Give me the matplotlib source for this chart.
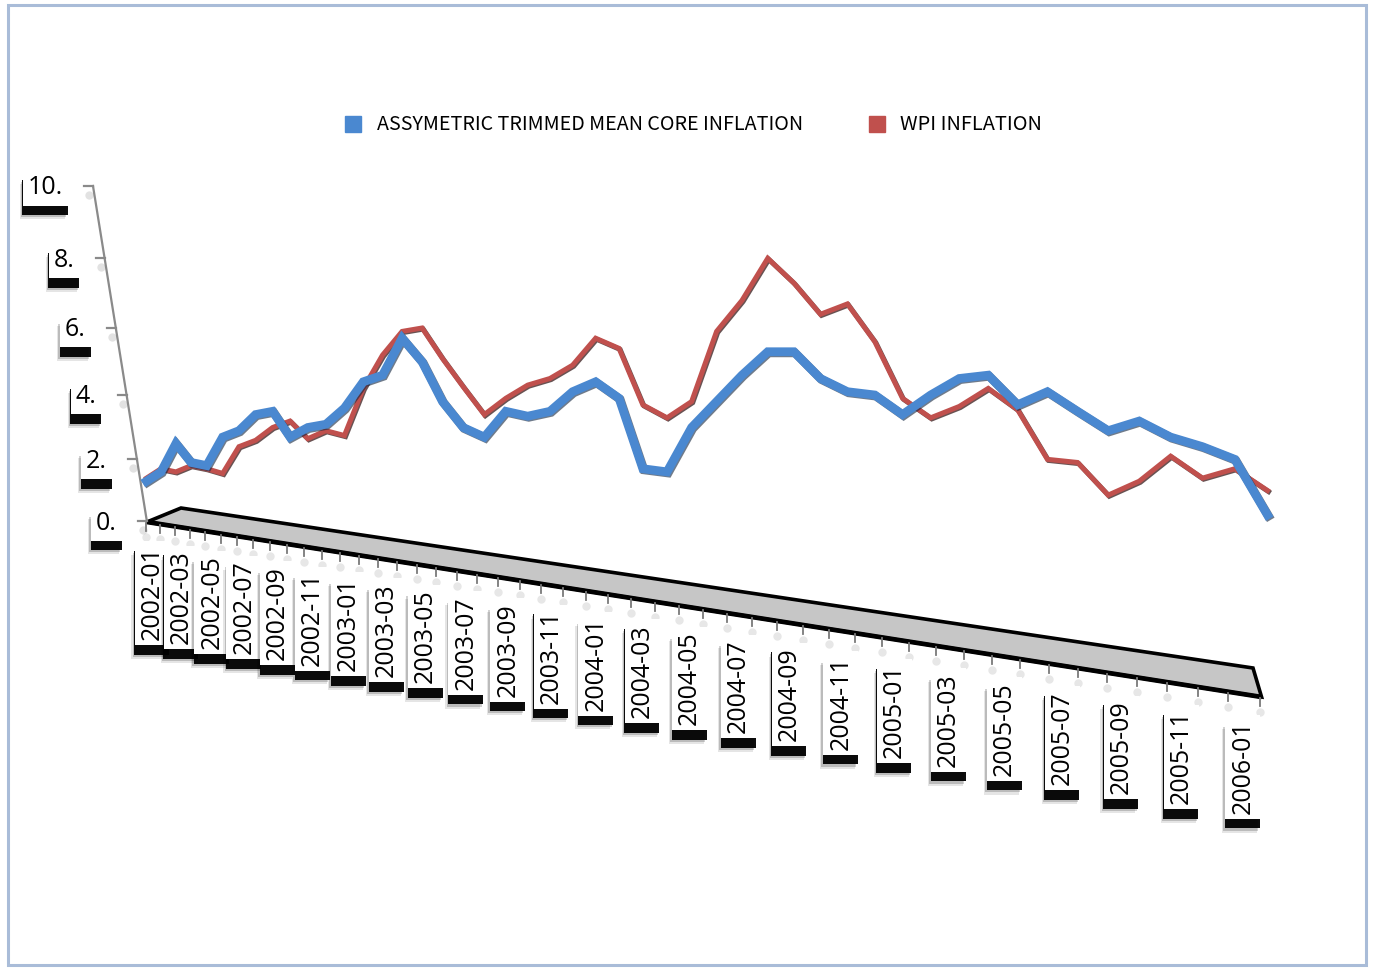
import numpy as np
import matplotlib
matplotlib.use("Agg")
import matplotlib.pyplot as plt
from matplotlib.patches import Polygon, Rectangle
import matplotlib.patheffects as pe

# ---------------- data ----------------
months = [f"{y}-{m:02d}" for y in range(2002, 2007) for m in range(1, 13)][:49]
core_inflation = [1.3, 1.6, 2.5, 1.9, 1.8, 2.7, 2.9, 3.4, 3.5, 2.7,
                  3.0, 3.1, 3.6, 4.4, 4.6, 5.7, 5.0, 3.8, 3.0, 2.7,
                  3.5, 3.35, 3.5, 4.1, 4.4, 3.9, 1.7, 1.6, 3.0, 3.8,
                  4.6, 5.3, 5.3, 4.5, 4.1, 4.0, 3.4, 4.0, 4.5, 4.6,
                  3.7, 4.1, 3.5, 2.9, 3.2, 2.7, 2.4, 2.0, 0.2]
wpi_inflation = [1.4, 1.7, 1.6, 1.8, 1.7, 1.55, 2.4, 2.6, 3.0, 3.2,
                 2.65, 2.9, 2.75, 4.2, 5.2, 5.9, 6.0, 5.1, 4.25, 3.4,
                 3.9, 4.3, 4.5, 4.9, 5.7, 5.4, 3.7, 3.3, 3.8, 5.9,
                 6.8, 8.0, 7.3, 6.4, 6.7, 5.6, 3.9, 3.3, 3.65, 4.2,
                 3.55, 2.0, 1.9, 0.85, 1.3, 2.1, 1.4, 1.7, 1.0]
y_ticks = [0, 2, 4, 6, 8, 10]
y_tick_labels = ["0.", "2.", "4.", "6.", "8.", "10."]
series_names = ["ASSYMETRIC TRIMMED MEAN CORE INFLATION", "WPI INFLATION"]

BLUE = "#4a88d0"
RED = "#c0504d"
W, H = 1374, 969
LABEL_FONT = ["Open Sans", "DejaVu Sans"]
LEGEND_FONT = ["Noto Sans CJK SC", "DejaVu Sans"]

# ---------------- perspective mapping (pixels) ----------------
def x_label_px(t):
    t = np.asarray(t, dtype=float)
    return 152 + 14.27 * t + 0.1762 * t ** 2

def x_line_px(t):
    t = np.asarray(t, dtype=float)
    return x_label_px(t) + 25 * (np.clip(t, 0, None) / 48.0) ** 3

def y_val_px(v):  # pixel row (from top) of value v on the left axis
    v = np.asarray(v, dtype=float)
    return 521 - 30.17 * v - 0.333 * v ** 2

tgrid = np.linspace(-12, 60, 4000)
vgrid = np.linspace(-30, 30, 4000)

def fx(t):
    return x_line_px(t)

def fx_inv(x):
    return np.interp(x, x_line_px(tgrid), tgrid)

def fy(v):
    return H - y_val_px(v)

def fy_inv(p):
    return np.interp(p, H - y_val_px(vgrid), vgrid)

fig = plt.figure(figsize=(W / 100, H / 100), dpi=100)
fig.patch.set_facecolor("white")

# pixel overlay for decorations
px = fig.add_axes([0, 0, 1, 1], zorder=1)
px.set_xlim(0, W)
px.set_ylim(H, 0)
px.axis("off")

# main data axes
ax = fig.add_axes([0, 0, 1, 1], zorder=2)
ax.patch.set_alpha(0)
ax.set_xscale("function", functions=(fx, fx_inv))
ax.set_yscale("function", functions=(fy, fy_inv))
ax.set_xlim(fx_inv(0), fx_inv(W))
ax.set_ylim(fy_inv(0), fy_inv(H))
ax.axis("off")

# outer frame
px.add_patch(Rectangle((8, 5), W - 16, H - 9, fill=False, ec="#a9bcd8", lw=2.2))

box_shadow = [
    pe.SimplePatchShadow(offset=(-2.2, -10), shadow_rgbFace="black", alpha=0.10),
    pe.SimplePatchShadow(offset=(-1.4, -8.5), shadow_rgbFace="black", alpha=0.18),
    pe.SimplePatchShadow(offset=(-0.2, -7), shadow_rgbFace="black", alpha=0.95),
    pe.Normal()]

# ---------------- floor strip ----------------
def front_y(x):
    return 522 + 0.157 * (x - 147)

x_fl = float(x_label_px(-0.5)) + 2
x_fr = float(x_label_px(48.5)) + 3
floor = Polygon([(x_fl, front_y(x_fl)), (181, 508), (1253, 668), (x_fr, front_y(x_fr))],
                closed=True, fc="#c6c6c6", ec="black", lw=2.6, joinstyle="miter", zorder=2)
px.add_patch(floor)
px.plot([x_fl, x_fr], [front_y(x_fl), front_y(x_fr)], color="black", lw=3.4, zorder=3,
        solid_capstyle="butt")

# category tick marks
for k in range(50):
    xb = float(x_label_px(k - 0.5)) + 1
    yb = front_y(xb) + 1
    px.plot([xb, xb], [yb, yb + 8], color="#7a7a7a", lw=1.3, zorder=3)
    px.plot([xb], [yb + 14], marker="o", ms=6, color="#d8d8d8", alpha=0.6, mec="none", zorder=1)

# x labels
for i in range(0, 49, 2):
    xc = float(x_label_px(i))
    ytop = 546 + 0.1595 * (xc - 152)
    txt = px.text(xc, ytop, months[i], rotation=90, ha="center", va="top",
                  fontsize=18, family=LABEL_FONT, color="black", zorder=4,
                  bbox=dict(boxstyle="square,pad=0.2", fc="white", ec="none"))
    txt.get_bbox_patch().set_path_effects(box_shadow)

# ---------------- y axis ----------------
def axis_x(y):
    return 93 + (y - 186) * (54.0 / 336.0)

y_top = float(y_val_px(10))
y_bot = float(y_val_px(0))
px.plot([axis_x(y_top), axis_x(y_bot)], [y_top, y_bot], color="#8a8a8a", lw=1.6, zorder=3)
for v, lab in zip(y_ticks, y_tick_labels):
    yy = float(y_val_px(v))
    xa = axis_x(yy)
    px.plot([xa - 9, xa], [yy, yy], color="#8a8a8a", lw=1.6, zorder=3)
    px.plot([xa - 4], [yy + 9], marker="o", ms=6, color="#d0d0d0", alpha=0.6, mec="none", zorder=1)
    txt = px.text(xa - 30, yy + 2, lab, ha="right", va="center", fontsize=18,
                  family=LABEL_FONT, color="black", zorder=4,
                  bbox=dict(boxstyle="square,pad=0.2", fc="white", ec="none"))
    txt.get_bbox_patch().set_path_effects(box_shadow)

# ---------------- series ----------------
t_idx = np.arange(len(months))
ax.plot(t_idx, wpi_inflation, color=RED, lw=3.6, zorder=3, solid_joinstyle="miter",
        path_effects=[pe.SimpleLineShadow(offset=(0.8, -0.8), shadow_color="#2a0a0a", alpha=0.7),
                      pe.Normal()])
ax.plot(t_idx, core_inflation, color=BLUE, lw=6.3, zorder=4, solid_joinstyle="miter",
        path_effects=[pe.SimpleLineShadow(offset=(0.8, -0.8), shadow_color="#10243e", alpha=0.6),
                      pe.Normal()])

# ---------------- legend ----------------
renderer = fig.canvas.get_renderer()
legend_items = [(BLUE, 353, 377, 425), (RED, 877, 900, 142)]
for (col, xm, xt, width), name in zip(legend_items, series_names):
    px.plot([xm], [124], ls="none", marker="s", ms=11, color=col, zorder=4)
    t = px.text(xt, 124, name, ha="left", va="center", fontsize=20,
                family=LEGEND_FONT, color="black", zorder=4)
    w = t.get_window_extent(renderer).width
    t.set_fontsize(20 * width / w)

fig.savefig("out.png", dpi=100, facecolor="white")
